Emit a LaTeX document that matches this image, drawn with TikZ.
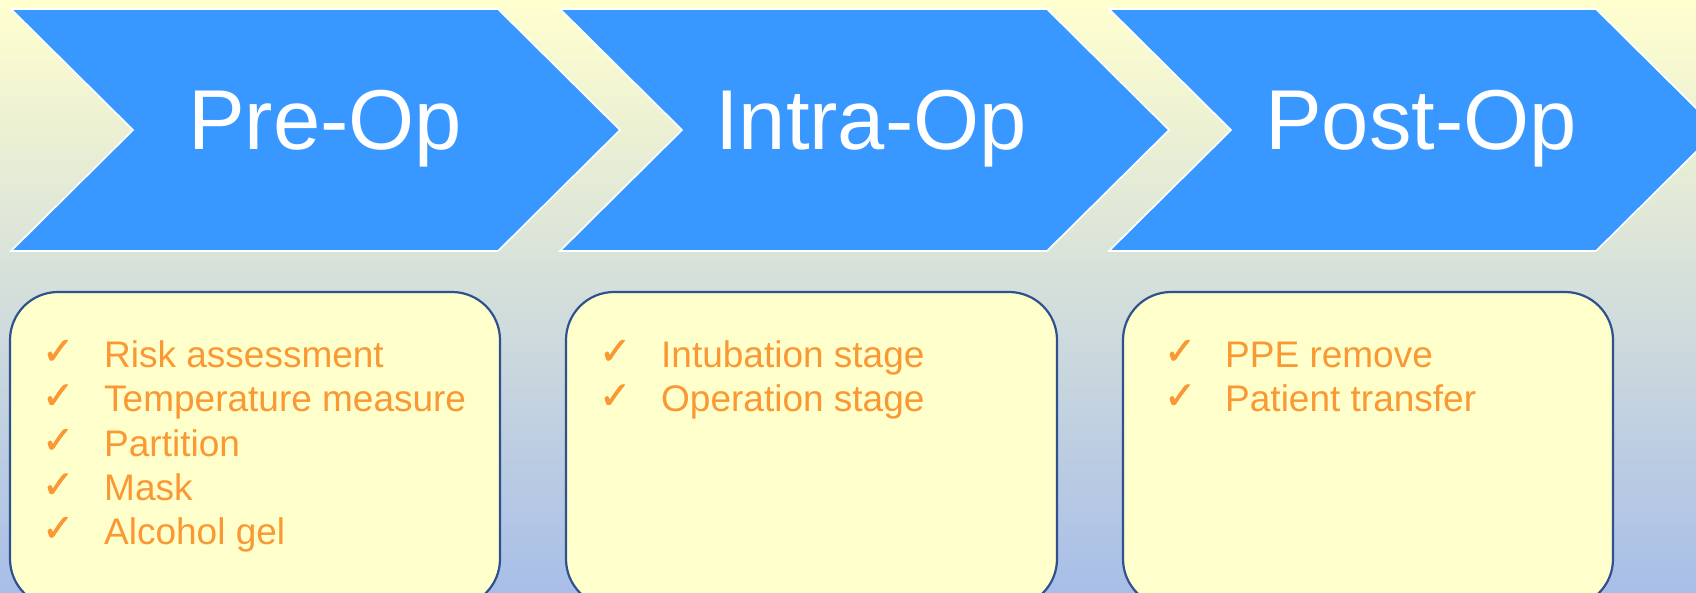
\documentclass[tikz,border=0pt]{standalone}
\usepackage{fontspec}
\setmainfont{Liberation Sans}
\newfontfamily\symfont{DejaVu Sans}[FakeBold=1.5]
\definecolor{bgtop}{RGB}{255,255,206}
\definecolor{bgbot}{RGB}{168,190,232}
\definecolor{chevblue}{RGB}{56,152,255}
\definecolor{boxfill}{RGB}{255,255,204}
\definecolor{boxline}{RGB}{47,82,143}
\definecolor{itemorange}{RGB}{250,152,52}
\tikzset{
  chevron/.style={fill=chevblue, draw=white, line width=1.6pt, line join=miter},
  phase/.style={text=white, font=\fontsize{85}{100}\selectfont, anchor=base, inner sep=0pt},
  listbox/.style={fill=boxfill, draw=boxline, line width=2.2pt, rounded corners=48pt},
  tick/.style={text=itemorange, font=\symfont\fontsize{38}{40}\selectfont, anchor=base west, inner sep=0pt},
  item/.style={text=itemorange, font=\fontsize{37}{43}\selectfont, anchor=base west, inner sep=0pt}
}
\begin{document}
\begin{tikzpicture}[x=1pt,y=-1pt]
\useasboundingbox (0,0) rectangle (1696,592);
\clip (0,0) rectangle (1696,592);
\shade[top color=bgtop, bottom color=bgbot] (0,0) rectangle (1696,592);
% chevrons
\foreach \dx in {0,549,1098}{
  \draw[chevron] ({11+\dx},9) -- ({498+\dx},9) -- ({620+\dx},130) -- ({498+\dx},251)
     -- ({11+\dx},251) -- ({133+\dx},130) -- cycle;
}
\node[phase] (pre) at (325,149) {Pre-Op};
\node[phase] (intra) at (871,149) {Intra-Op};
\node[phase] (post) at (1421,149) {Post-Op};
% boxes
\draw[listbox] (10,292) rectangle (500,607);
\draw[listbox] (566,292) rectangle (1057,607);
\draw[listbox] (1123,292) rectangle (1613,607);
% box 1
\node[tick] (t11) at (42,364) {✓};
\node[item] (i11) at (104,367) {Risk assessment};
\node[tick] (t12) at (42,408.5) {✓};
\node[item] (i12) at (104,411.5) {Temperature measure};
\node[tick] (t13) at (42,453) {✓};
\node[item] (i13) at (104,456) {Partition};
\node[tick] (t14) at (42,497.5) {✓};
\node[item] (i14) at (104,500.5) {Mask};
\node[tick] (t15) at (42,541) {✓};
\node[item] (i15) at (104,544) {Alcohol gel};
% box 2
\node[tick] (t21) at (599,364) {✓};
\node[item] (i21) at (661,367) {Intubation stage};
\node[tick] (t22) at (599,408.5) {✓};
\node[item] (i22) at (661,411.5) {Operation stage};
% box 3
\node[tick] (t31) at (1164,364) {✓};
\node[item] (i31) at (1225,367) {PPE remove};
\node[tick] (t32) at (1164,408.5) {✓};
\node[item] (i32) at (1225,411.5) {Patient transfer};
\end{tikzpicture}
\end{document}
